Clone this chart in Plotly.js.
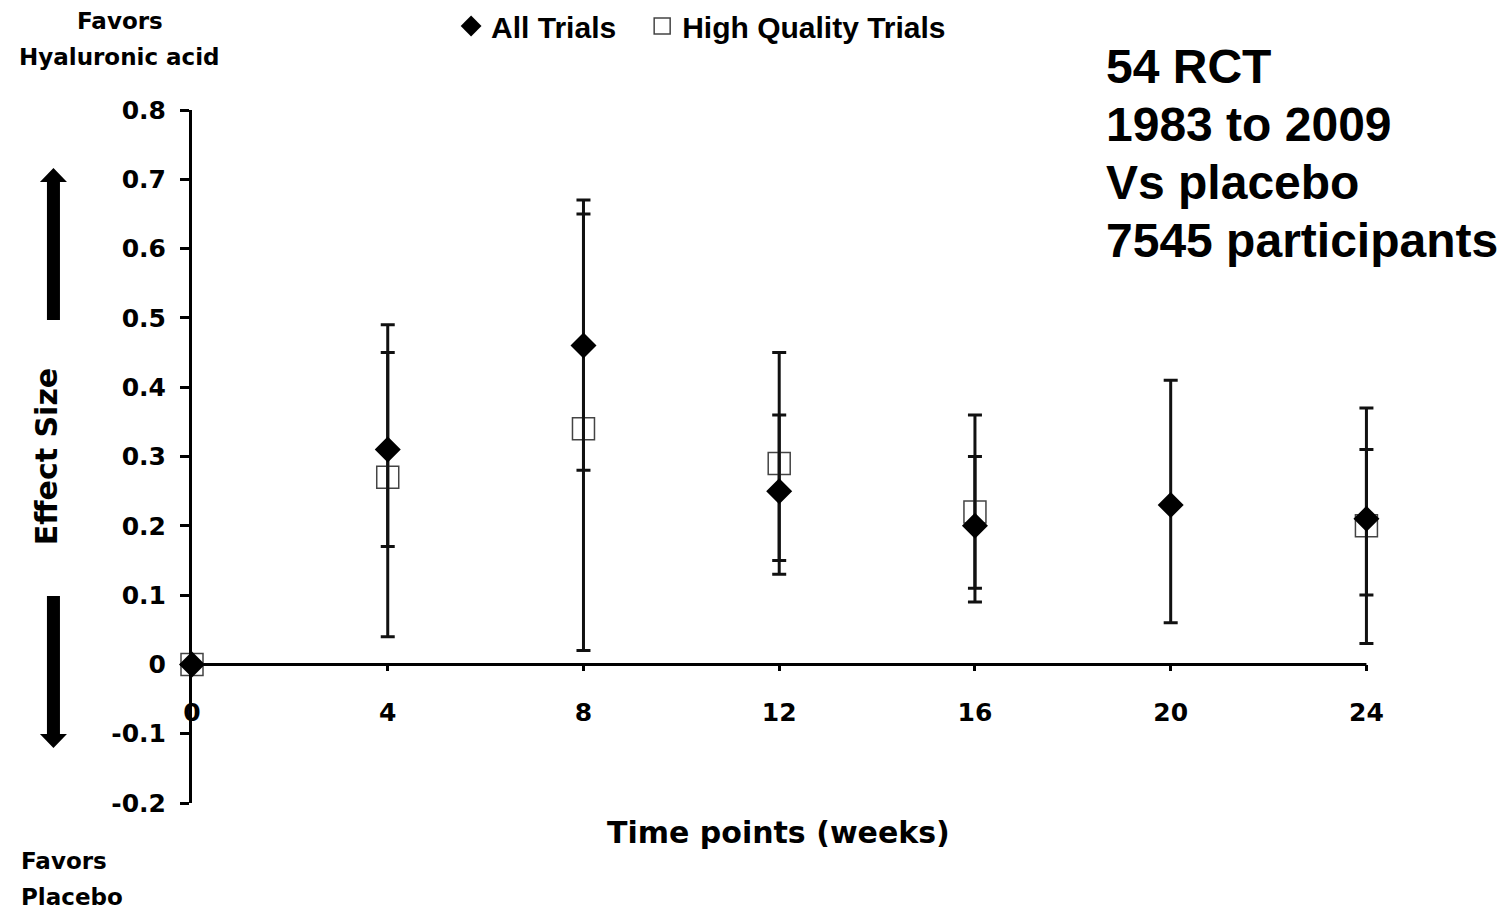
<!DOCTYPE html>
<html>
<head>
<meta charset="utf-8">
<script src="https://cdn.plot.ly/plotly-3.0.1.min.js"></script>
<style>html,body{margin:0;padding:0;background:#fff;}#chart{width:1511px;height:910px;}</style>
</head>
<body>
<div id="chart"></div>
<script>
// Data
const weeks = [0, 4, 8, 12, 16, 20, 24];
const allTrialsES = [0, 0.31, 0.46, 0.25, 0.20, 0.23, 0.21];
const allTrialsLow = [0, 0.17, 0.28, 0.15, 0.11, 0.06, 0.10];
const allTrialsHigh = [0, 0.45, 0.65, 0.36, 0.30, 0.41, 0.31];

const hqWeeks = [0, 4, 8, 12, 16, 24];
const hqTrialsES = [0, 0.27, 0.34, 0.29, 0.22, 0.20];
const hqTrialsLow = [0, 0.04, 0.02, 0.13, 0.09, 0.03];
const hqTrialsHigh = [0, 0.49, 0.67, 0.45, 0.36, 0.37];

const xTickVals = [0, 4, 8, 12, 16, 20, 24];
const yTickVals = [-0.2, -0.1, 0, 0.1, 0.2, 0.3, 0.4, 0.5, 0.6, 0.7, 0.8];
const yTickText = ['-0.2', '-0.1', '0', '0.1', '0.2', '0.3', '0.4', '0.5', '0.6', '0.7', '0.8'];
const infoLines = ['54 RCT', '1983 to 2009', 'Vs placebo', '7545 participants'];

const plus = (hi, es) => hi.map((h, i) => +(h - es[i]).toFixed(3));
const minus = (lo, es) => lo.map((l, i) => +(es[i] - l).toFixed(3));

const boldWide = 'DejaVu Sans, Verdana, sans-serif';
const boldArial = 'Liberation Sans, Arial, sans-serif';

// geometry (pixels) -> paper fractions
const ML = 192, MT = 110, MB = 107;
const XMAX = 24.4;
const PXW = 1174 / 24;             // pixels per week
const W = PXW * XMAX;              // plot width
const MR = 1511 - ML - W;
const H = 910 - MT - MB;
const px = x => (x - ML) / W;
const py = y => (910 - MB - y) / H;

const traces = [
  {
    type: 'scatter', mode: 'markers', name: 'High Quality Trials', legend: 'legend2',
    x: hqWeeks, y: hqTrialsES, cliponaxis: false,
    marker: {symbol: 'square-open', size: 22, color: '#444', line: {width: 1.5, color: '#444'}},
    error_y: {type: 'data', symmetric: false, array: plus(hqTrialsHigh, hqTrialsES),
      arrayminus: minus(hqTrialsLow, hqTrialsES), color: '#111', thickness: 3, width: 7}
  },
  {
    type: 'scatter', mode: 'markers', name: 'All Trials', legend: 'legend',
    x: weeks, y: allTrialsES, cliponaxis: false,
    marker: {symbol: 'diamond', size: 20, color: '#000'},
    error_y: {type: 'data', symmetric: false, array: plus(allTrialsHigh, allTrialsES),
      arrayminus: minus(allTrialsLow, allTrialsES), color: '#111', thickness: 3, width: 7}
  }
];

const titleFont = {family: boldWide, size: 30, color: '#000', weight: 'bold'};
const favFont = {family: boldWide, size: 23, color: '#000', weight: 'bold'};
const legendFont = {family: boldArial, size: 30, color: '#000', weight: 'bold'};

const annotations = [
  {xref: 'paper', yref: 'paper', x: px(778), y: py(832), yanchor: 'middle', xanchor: 'center', showarrow: false,
    text: 'Time points (weeks)', font: titleFont},
  {xref: 'paper', yref: 'paper', x: px(120), y: py(21), xanchor: 'center', yanchor: 'middle', showarrow: false,
    text: 'Favors', font: favFont},
  {xref: 'paper', yref: 'paper', x: px(120), y: py(57), xanchor: 'center', yanchor: 'middle', showarrow: false,
    text: 'Hyaluronic acid', font: favFont},
  {xref: 'paper', yref: 'paper', x: px(19), y: py(861), xanchor: 'left', yanchor: 'middle', showarrow: false,
    text: 'Favors', font: favFont},
  {xref: 'paper', yref: 'paper', x: px(19), y: py(897), xanchor: 'left', yanchor: 'middle', showarrow: false,
    text: 'Placebo', font: favFont}
];
infoLines.forEach((t, i) => {
  annotations.push({xref: 'paper', yref: 'paper', x: px(1104), y: py(66 + 58 * i), xanchor: 'left', yanchor: 'middle',
    showarrow: false, text: t, font: {family: boldArial, size: 48, color: '#000', weight: 'bold'}});
});

// direction arrows (decorations in paper space)
const arrowShape = (tipY, baseY, endY) => ({
  type: 'path', xref: 'paper', yref: 'paper', fillcolor: '#000', line: {width: 0},
  path: `M ${px(53.5)},${py(tipY)} L ${px(67)},${py(baseY)} L ${px(60)},${py(baseY)} L ${px(60)},${py(endY)} ` +
        `L ${px(47)},${py(endY)} L ${px(47)},${py(baseY)} L ${px(40)},${py(baseY)} Z`
});

const shapes = [
  arrowShape(168, 182, 320),
  arrowShape(748, 734, 596),
  // x-axis line drawn along y = 0 from week 0 to week 24
  {type: 'line', xref: 'x', yref: 'y', x0: weeks[0], x1: weeks[weeks.length - 1], y0: 0, y1: 0,
    line: {color: '#000', width: 3}, layer: 'below'}
];

const layout = {
  width: 1511, height: 910,
  margin: {l: ML, r: MR, t: MT, b: MB, autoexpand: false},
  paper_bgcolor: '#fff', plot_bgcolor: '#fff',
  showlegend: true,
  legend: {orientation: 'h', x: px(451), y: py(26), xanchor: 'left', yanchor: 'middle', font: legendFont},
  legend2: {orientation: 'h', x: px(642), y: py(26), xanchor: 'left', yanchor: 'middle', font: legendFont},
  xaxis: {
    range: [0, XMAX], anchor: 'free', position: py(664),
    tickvals: xTickVals, ticktext: xTickVals.map(String),
    showgrid: false, zeroline: false, showline: false,
    ticks: 'outside', ticklen: 6, tickwidth: 3, tickcolor: '#000',
    ticklabelstandoff: 20,
    tickfont: {family: boldWide, size: 25, color: '#000', weight: 'bold'}
  },
  yaxis: {
    range: [-0.2, 0.8], tickvals: yTickVals, ticktext: yTickText,
    showgrid: false, zeroline: false, showline: true, linecolor: '#000', linewidth: 3,
    ticks: 'outside', ticklen: 9, tickwidth: 3, tickcolor: '#000',
    ticklabelstandoff: 9,
    tickfont: {family: boldWide, size: 25, color: '#000', weight: 'bold'},
    title: {text: 'Effect Size', standoff: 45, font: titleFont}
  },
  shapes: shapes,
  annotations: annotations
};

Plotly.newPlot('chart', traces, layout, {displayModeBar: false, staticPlot: true});
</script>
</body>
</html>
